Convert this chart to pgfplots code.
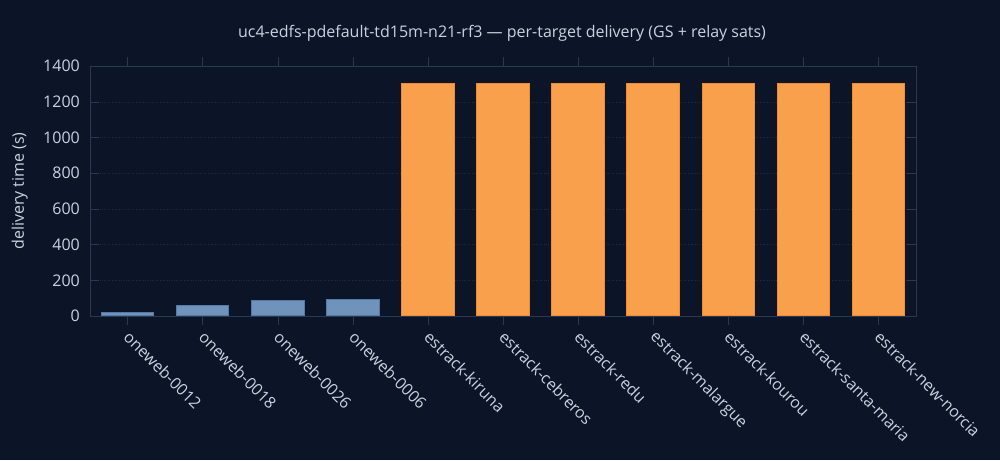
\documentclass[border=0pt]{standalone}
\usepackage{pgfplots}
\pgfplotsset{compat=1.18}
\usepackage{fontspec}
\setmainfont{Open Sans}
\definecolor{bg}{HTML}{0B1527}
\definecolor{fg}{HTML}{C9D2DF}
\definecolor{axcol}{HTML}{2A3852}
\definecolor{gridcol}{HTML}{1F2B40}
\definecolor{sat}{HTML}{7093BC}
\definecolor{satedge}{HTML}{5479A6}
\definecolor{gs}{HTML}{F8A04C}
\definecolor{gsedge}{HTML}{F58B2C}
\begin{document}
\begin{tikzpicture}
\fill[bg] (0pt,0pt) rectangle (1000pt,460pt);
\useasboundingbox (0pt,0pt) rectangle (1000pt,460pt);
\node[text=fg,font=\fontsize{16}{19}\selectfont] at (502pt,427pt) {uc4-edfs-pdefault-td15m-n21-rf3 — per-target delivery (GS + relay sats)};
\begin{axis}[
    at={(90pt,144pt)}, anchor=south west,
    scale only axis, width=826pt, height=250pt,
    xmin=-0.5, xmax=10.5, ymin=0, ymax=1400,
    ytick={0,200,...,1400},
    xtick={0,...,10},
    xticklabels={oneweb-0012,oneweb-0018,oneweb-0026,oneweb-0006,estrack-kiruna,estrack-cebreros,estrack-redu,estrack-malargue,estrack-kourou,estrack-santa-maria,estrack-new-norcia},
    tick align=inside, tick pos=both,
    major tick length=9pt,
    axis line style={axcol},
    every tick/.style={axcol},
    ymajorgrids, grid style={gridcol, dotted},
    /pgf/number format/assume math mode=true,
    /pgf/number format/1000 sep={},
    ticklabel style={text=fg, font=\fontsize{16}{19}\selectfont},
    yticklabel style={anchor=east, inner sep=0pt, xshift=-10pt},
    xticklabel style={rotate=-45, anchor=west, inner sep=0pt, xshift=6pt, yshift=-7pt},
    ylabel={delivery time (s)},
    ylabel style={text=fg, font=\fontsize{16}{19}\selectfont, at={(axis description cs:-0.085,0.5)}, anchor=center},
    bar width=0.7, ybar, bar shift=0pt,
]
\addplot[fill=sat, draw=satedge, line width=1pt] coordinates {
    (0,20.5) (1,60) (2,84) (3,90)
};
\addplot[fill=gs, draw=gsedge, line width=1pt] coordinates {
    (4,1300) (5,1300) (6,1300) (7,1300) (8,1300) (9,1300) (10,1300)
};
\end{axis}
\end{tikzpicture}
\end{document}
